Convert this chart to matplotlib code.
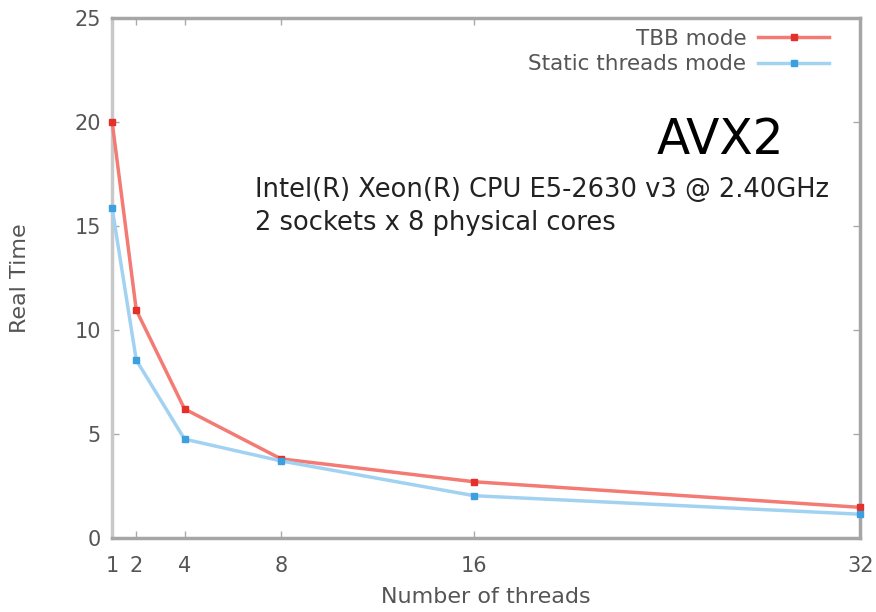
import matplotlib
matplotlib.use("Agg")
import matplotlib.pyplot as plt

threads = [1, 2, 4, 8, 16, 32]
tbb_time = [20.0, 10.95, 6.2, 3.8, 2.7, 1.47]
static_time = [15.85, 8.55, 4.75, 3.7, 2.03, 1.14]
yticks = [0, 5, 10, 15, 20, 25]

plt.rcParams['font.family'] = ['DejaVu Sans']

fig = plt.figure(figsize=(8.76, 6.12), dpi=100)
ax = fig.add_axes([0.128, 0.121, 0.854, 0.850])

ax.plot(threads, tbb_time, color='#f47a74', lw=2.5, marker='s', ms=5,
        mfc='#e3302a', mec='#e3302a', label='TBB mode', clip_on=False, zorder=3)
ax.plot(threads, static_time, color='#a2d2f2', lw=2.5, marker='s', ms=5,
        mfc='#3c9fe0', mec='#3c9fe0', label='Static threads mode', clip_on=False, zorder=3)

ax.set_xlim(1, 32)
ax.set_ylim(0, 25)
ax.set_xticks(threads)
ax.set_yticks(yticks)
ax.tick_params(direction='in', length=5, width=1, color='#aaaaaa',
               top=True, right=True, labelsize=15, labelcolor='#555555')
ax.tick_params(axis='y', pad=8)
ax.tick_params(axis='x', pad=13)
for s in ax.spines.values():
    s.set_color('#a6a6a6')
    s.set_linewidth(2.5)
ax.spines['left'].set_color('#c8c8c8')

ax.set_ylabel('Real Time', fontsize=16, color='#555555', labelpad=32)
ax.set_xlabel('Number of threads', fontsize=16, color='#555555', labelpad=8)

leg = ax.legend(loc='upper right', markerfirst=False, frameon=False, fontsize=15.5,
                handlelength=3.3, handletextpad=0.55, borderaxespad=0.0,
                labelspacing=0.25, bbox_to_anchor=(0.970, 0.995))
for t in leg.get_texts():
    t.set_color('#555555')

ax.text(0.728, 0.738, 'AVX2', transform=ax.transAxes, fontsize=35, color='black')
ax.text(0.191, 0.655, 'Intel(R) Xeon(R) CPU E5-2630 v3 @ 2.40GHz', transform=ax.transAxes,
        fontsize=18.5, color='#222222')
ax.text(0.191, 0.592, '2 sockets x 8 physical cores', transform=ax.transAxes,
        fontsize=18.5, color='#222222')

fig.savefig('out.png', dpi=100)
